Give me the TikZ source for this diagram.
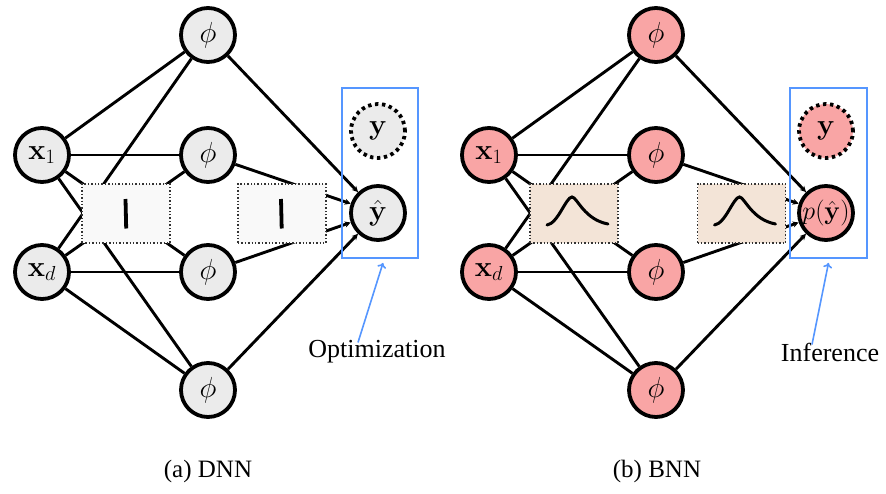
\RequirePackage{fix-cm}
\documentclass[tikz,border=0pt]{standalone}
\usepackage[no-math]{fontspec}
\setmainfont{Liberation Serif}
\usetikzlibrary{arrows.meta,backgrounds}

\definecolor{nodegray}{RGB}{235,235,235}
\definecolor{nodered}{RGB}{249,165,165}
\definecolor{wfill}{RGB}{249,249,249}
\definecolor{gfill}{RGB}{243,228,215}
\definecolor{optblue}{RGB}{85,150,255}

\tikzset{
  neuron/.style={circle, draw=black, line width=3.8pt, minimum size=54pt,
    inner sep=0pt, font=\fontsize{29}{33}\selectfont},
  dnnunit/.style={neuron, fill=nodegray},
  bnnunit/.style={neuron, fill=nodered},
  target/.style={dash pattern=on 3.4pt off 3.6pt},
  edge/.style={line width=2.9pt},
  outedge/.style={edge, -{Stealth[length=6pt,width=6pt]}},
  weightbox/.style={draw=black!80, dotted, line width=1.4pt,
    minimum width=88pt, minimum height=59pt, inner sep=0pt},
  frame/.style={draw=optblue, line width=1.8pt, minimum width=76pt,
    minimum height=170pt, inner sep=0pt},
  pointer/.style={draw=optblue, line width=1.6pt, -{To[length=5pt,width=9pt]}},
  note/.style={font=\fontsize{26}{30}\selectfont, inner sep=0pt},
  caption/.style={font=\fontsize{25}{30}\selectfont, inner sep=0pt},
  pdfcurve/.style={line width=3pt, line cap=round},
  deltaline/.style={line width=3.8pt},
}

\begin{document}
\begin{tikzpicture}[x=1pt, y=-1pt]
\useasboundingbox (0,0) rectangle (886,493);

% ---------------- (a) DNN ----------------
\node[dnnunit] (ax1) at (42,155) {$\mathbf{x}_1$};
\node[dnnunit] (axd) at (42,272) {$\mathbf{x}_d$};
\node[dnnunit] (ah1) at (208,35)  {$\phi$};
\node[dnnunit] (ah2) at (208,155) {$\phi$};
\node[dnnunit] (ah3) at (208,272) {$\phi$};
\node[dnnunit] (ah4) at (208,390) {$\phi$};
\node[dnnunit, target] (ay) at (378,131) {$\mathbf{y}$};
\node[dnnunit] (ayh) at (378,213) {$\hat{\mathbf{y}}$};

% point-estimate weights
\node[weightbox, fill=wfill] (aw1) at (126,213.5) {};
\node[weightbox, fill=wfill] (aw2) at (282,213.5) {};
\draw[deltaline] ([xshift=-0.5pt,yshift=14.5pt]aw1.center) -- ([xshift=0.2pt,yshift=-15pt]aw1.center);
\draw[deltaline] ([xshift=-1pt,yshift=14.5pt]aw2.center) -- ([xshift=-0.3pt,yshift=-15pt]aw2.center);

\node[frame] (aframe) at (380,173) {};
\node[note] (aopt) at (377,352) {Optimization};
\draw[pointer] ([xshift=-19pt,yshift=-2pt]aopt.north) -- ([xshift=3pt,yshift=-4pt]aframe.south);

\node[caption] (acap) at (208,471) {(a) DNN};

\begin{scope}[on background layer]
  \foreach \i in {ax1,axd}
    \foreach \j in {ah1,ah2,ah3,ah4}
      \draw[edge] (\i) -- (\j);
  \foreach \j in {ah1,ah2,ah3,ah4}
    \draw[outedge] (\j) -- (ayh);
\end{scope}

% ---------------- (b) BNN ----------------
\node[bnnunit] (bx1) at (489,155) {$\mathbf{x}_1$};
\node[bnnunit] (bxd) at (489,272) {$\mathbf{x}_d$};
\node[bnnunit] (bh1) at (656,35)  {$\phi$};
\node[bnnunit] (bh2) at (656,155) {$\phi$};
\node[bnnunit] (bh3) at (656,272) {$\phi$};
\node[bnnunit] (bh4) at (656,390) {$\phi$};
\node[bnnunit, target] (by) at (826,131) {$\mathbf{y}$};
\node[bnnunit, font=\fontsize{26}{30}\selectfont] (byh) at (826,213) {$p(\hat{\mathbf{y}})$};

% distributions over weights (peaked, heavy right tail)
\node[weightbox, fill=gfill] (bw1) at (574,213.5) {};
\node[weightbox, fill=gfill] (bw2) at (741.5,213.5) {};
\foreach \w in {bw1,bw2}
  \draw[pdfcurve] ([xshift=-27pt,yshift=-11.5pt]\w.center)
    .. controls ([xshift=-16pt,yshift=-10pt]\w.center) and ([xshift=-8pt,yshift=16.5pt]\w.center)
    .. ([xshift=-2pt,yshift=16.5pt]\w.center)
    .. controls ([xshift=3pt,yshift=16.5pt]\w.center) and ([xshift=10pt,yshift=-6pt]\w.center)
    .. ([xshift=34pt,yshift=-10.5pt]\w.center);

\node[frame, minimum width=77pt] (bframe) at (828.5,173) {};
\node[note] (binf) at (830,352) {Inference};
\draw[pointer] ([xshift=-18pt,yshift=-2pt]binf.north) -- ([xshift=0pt,yshift=-4pt]bframe.south);

\node[caption] (bcap) at (657,471) {(b) BNN};

\begin{scope}[on background layer]
  \foreach \i in {bx1,bxd}
    \foreach \j in {bh1,bh2,bh3,bh4}
      \draw[edge] (\i) -- (\j);
  \foreach \j in {bh1,bh2,bh3,bh4}
    \draw[outedge] (\j) -- (byh);
\end{scope}
\end{tikzpicture}
\end{document}
